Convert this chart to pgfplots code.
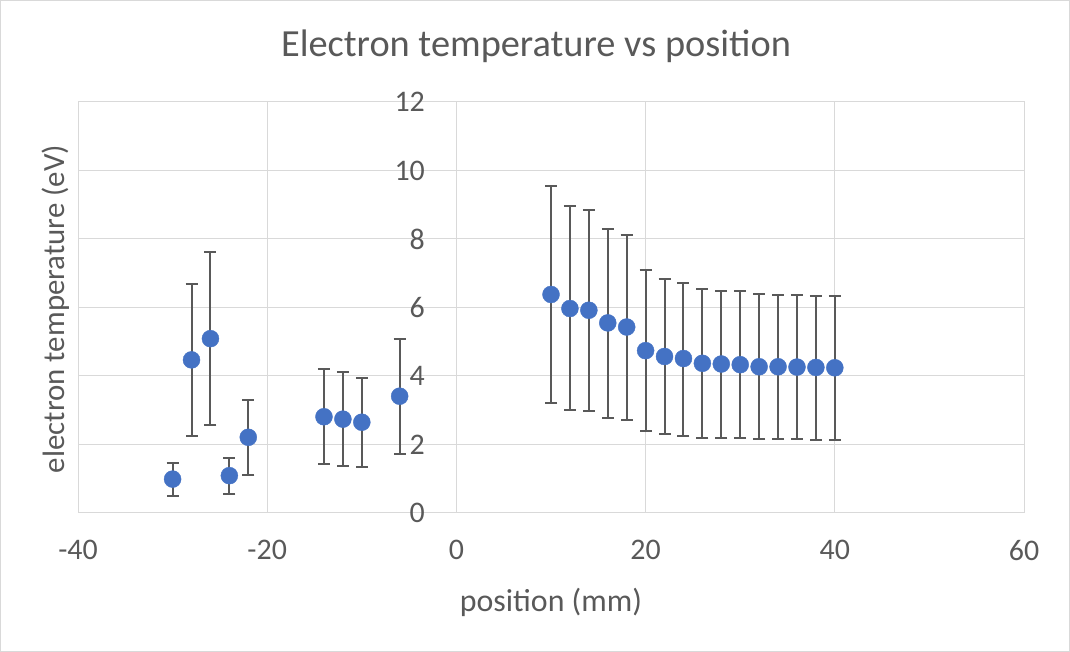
\documentclass[border=0pt]{standalone}
\usepackage{fontspec}
\setmainfont{Carlito}
\usepackage{pgfplots}
\usepackage{pgfplotstable}
\pgfplotsset{compat=1.18}
\definecolor{txt}{HTML}{595959}
\definecolor{gridc}{HTML}{D9D9D9}
\definecolor{ptc}{HTML}{4472C4}
\pgfplotstableread{
x y ep em
-30 0.99 0.48 0.48
-28 4.47 2.22 2.22
-26 5.09 2.53 2.53
-24 1.09 0.52 0.54
-22 2.21 1.08 1.10
-14 2.81 1.40 1.39
-12 2.74 1.37 1.36
-10 2.65 1.30 1.32
-6 3.41 1.68 1.69
10 6.38 3.17 3.18
12 5.97 2.98 2.96
14 5.92 2.93 2.94
16 5.55 2.74 2.77
18 5.43 2.68 2.71
20 4.74 2.35 2.35
22 4.57 2.26 2.27
24 4.51 2.21 2.25
26 4.37 2.17 2.17
28 4.35 2.14 2.16
30 4.33 2.14 2.15
32 4.27 2.12 2.11
34 4.27 2.10 2.12
36 4.26 2.10 2.11
38 4.25 2.09 2.11
40 4.24 2.09 2.10
}\datatable
\begin{document}
\begin{tikzpicture}[x=1bp,y=1bp]
\draw[gridc, line width=1bp] (0.5,0.5) rectangle (1069.5,651.5);
\node[text=txt, font=\fontsize{38.5}{42}\selectfont] at (536,606) {Electron temperature vs position};
\node[text=txt, font=\fontsize{32}{36}\selectfont] at (551,50) {position (mm)};
\node[text=txt, font=\fontsize{31}{35}\selectfont, rotate=90] at (56,343) {electron temperature (eV)};
\begin{axis}[at={(78bp,139bp)}, anchor=south west, scale only axis,
  width=946bp, height=411bp,
  xmin=-40, xmax=60, ymin=0, ymax=12,
  xtick={-40,-20,...,60}, ytick={0,2,...,12},
  grid=major, grid style={gridc, line width=1bp},
  axis line style={gridc, line width=1bp},
  major tick length=0pt,
  /pgf/number format/assume math mode=true,
  tick label style={font=\fontsize{30}{34}\selectfont, text=txt},
  yticklabel style={anchor=east, inner sep=0pt, xshift=347bp},
  xticklabel style={anchor=north, inner sep=0pt, yshift=-27bp},
  clip=false]
\addplot[only marks, mark=*, mark size=8.5bp, mark options={fill=ptc, draw=ptc},
  error bars/.cd, y dir=both, y explicit,
  error bar style={line width=2bp, color=txt},
  error mark options={rotate=90, mark size=6bp, line width=2bp, color=txt}]
  table[x=x, y=y, y error plus=ep, y error minus=em] {\datatable};
\end{axis}
\end{tikzpicture}
\end{document}
